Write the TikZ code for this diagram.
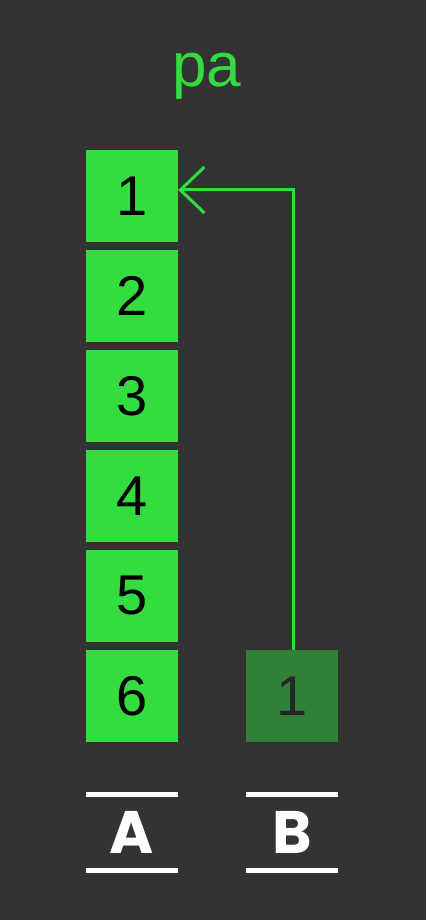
\documentclass[tikz,border=0pt]{standalone}
\usepackage{fontspec}
\setmainfont{Liberation Sans}
\newfontfamily\labfont{Poppins Bold}
\usetikzlibrary{arrows.meta}
\definecolor{bg}{HTML}{333333}
\definecolor{brgreen}{HTML}{33DD3F}
\definecolor{dkgreen}{HTML}{318038}
\tikzset{
  cell/.style={fill=brgreen, minimum width=92pt, minimum height=92pt, inner sep=0pt, font=\fontsize{56}{60}\selectfont, text=black},
  dcell/.style={fill=dkgreen, minimum width=92pt, minimum height=92pt, inner sep=0pt, font=\fontsize{56}{60}\selectfont, text=black!85},
  bar/.style={draw=white, line width=5pt},
  lab/.style={text=white, font=\labfont\fontsize{60}{60}\selectfont},
  arr/.style={draw=brgreen, line width=3pt, -{Straight Barb[length=24pt, width=46pt, line width=3pt]}}
}
\begin{document}
\begin{tikzpicture}[x=1pt,y=1pt]
\fill[bg] (0,0) rectangle (426,920);
\useasboundingbox (0,0) rectangle (426,920);
\node[text=brgreen, font=\fontsize{62}{66}\selectfont, anchor=base, inner sep=0pt] (title) at (207,833) {pa};
\node[cell] (A1) at (132,724) {1};
\node[cell] (A2) at (132,624) {2};
\node[cell] (A3) at (132,524) {3};
\node[cell] (A4) at (132,424) {4};
\node[cell] (A5) at (132,324) {5};
\node[cell] (A6) at (132,224) {6};
\node[dcell] (B1) at (292,224) {1};
\coordinate (turn) at (293,730);
\draw[arr] (B1.north -| turn) |- (A1.east |- turn);
\coordinate (Atl) at (86,125); \coordinate (Atr) at (178,125);
\coordinate (Abl) at (86,49); \coordinate (Abr) at (178,49);
\coordinate (Btl) at (246,125); \coordinate (Btr) at (338,125);
\coordinate (Bbl) at (246,49); \coordinate (Bbr) at (338,49);
\draw[bar] (Atl) -- (Atr);
\draw[bar] (Abl) -- (Abr);
\draw[bar] (Btl) -- (Btr);
\draw[bar] (Bbl) -- (Bbr);
\node[lab] (LA) at (132,88) {A};
\node[lab] (LB) at (292,88) {B};
\end{tikzpicture}
\end{document}
